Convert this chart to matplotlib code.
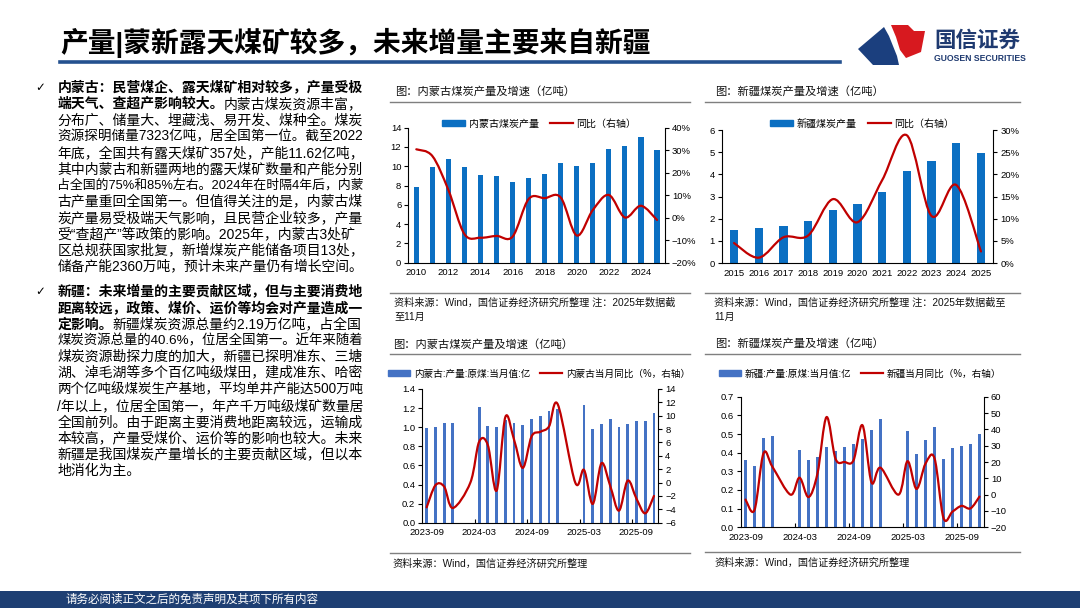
import matplotlib
matplotlib.use('Agg')
import matplotlib.pyplot as plt
from matplotlib.path import Path
from matplotlib.patches import PathPatch, Polygon, Rectangle
from matplotlib.lines import Line2D
from matplotlib.ticker import FuncFormatter, FixedLocator
import numpy as np

plt.rcParams['font.family'] = ['Liberation Sans', 'Noto Sans CJK SC', 'DejaVu Sans']
plt.rcParams['axes.unicode_minus'] = True

# ---------------- data ----------------
nm_years = list(range(2010, 2026))
nm_output = [7.81, 9.89, 10.78, 9.92, 9.06, 8.99, 8.37, 8.78, 9.23, 10.34, 10.02, 10.37, 11.75, 12.10, 13.00, 11.68]
nm_yoy = [30.4, 27.4, 12.3, -7.3, -8.9, -8.1, -8.4, 8.3, 8.7, 9.0, -7.9, 3.4, 10.1, 0.1, 5.3, -1.0]

xj_years = list(range(2015, 2026))
xj_output = [1.47, 1.58, 1.67, 1.89, 2.39, 2.66, 3.20, 4.15, 4.60, 5.41, 4.98]
xj_yoy = [4.5, 1.2, 5.8, 6.2, 14.4, 9.2, 18.7, 28.8, 10.6, 17.6, 2.6]

months = ['2023-09', '2023-10', '2023-11', '2023-12', '2024-01', '2024-02', '2024-03', '2024-04',
          '2024-05', '2024-06', '2024-07', '2024-08', '2024-09', '2024-10', '2024-11', '2024-12',
          '2025-01', '2025-02', '2025-03', '2025-04', '2025-05', '2025-06', '2025-07', '2025-08',
          '2025-09', '2025-10', '2025-11']
month_tick_labels = ['2023-09', '2024-03', '2024-09', '2025-03', '2025-09']

nm_month_output = [0.995, 1.005, 1.044, 1.044, None, None, 1.211, 1.009, 1.002, 1.08, 1.04, 1.028,
                   1.087, 1.118, 1.17, 1.19, None, None, 1.235, 0.981, 1.037, 1.086, 0.999, 1.034,
                   1.061, 1.068, 1.152]
nm_month_yoy = [-3.7, -0.4, -0.6, -3.8, None, 0.0, 6.1, 5.6, -1.2, 9.8, 6.4, 2.2, 6.9, 7.6, 8.4, 11.7,
                None, 0.0, 1.9, -3.2, 2.9, -0.5, -4.2, 0.3, -2.4, -4.6, -2.0]

xj_month_output = [0.361, 0.329, 0.477, 0.491, None, None, 0.414, 0.361, 0.379, 0.429, 0.407, 0.429,
                   0.446, 0.473, 0.521, 0.582, None, None, 0.514, 0.393, 0.466, 0.538, 0.368, 0.423,
                   0.436, 0.446, 0.498]
xj_month_yoy = [-3.0, -9.4, 25.3, 17.0, None, 0.0, 10.4, -1.5, 13.0, 47.5, 22.0, 20.0, 21.0, 42.5, 7.5,
                16.5, None, 0.0, 20.5, 3.5, 19.0, 22.3, -14.3, -10.4, -6.9, -8.4, -1.2]

# ---------------- figure ----------------
W, H = 1080, 608
fig = plt.figure(figsize=(10.8, 6.08), dpi=100)
fig.patch.set_facecolor('white')


def FX(x):
    return x / W


def FY(y):
    return 1 - y / H


def add_axes_px(l, t, r, b):
    return fig.add_axes([FX(l), FY(b), (r - l) / W, (b - t) / H])


def hline(x0, x1, y, color='#7f7f7f', lw=1.0):
    fig.add_artist(Line2D([FX(x0), FX(x1)], [FY(y), FY(y)], transform=fig.transFigure, color=color, lw=lw))


def smooth_path(xs, ys):
    pts = [(x, y) for x, y in zip(xs, ys) if y is not None]
    pts = np.array(pts, dtype=float)
    n = len(pts)
    verts = [pts[0]]
    codes = [Path.MOVETO]
    for i in range(n - 1):
        p0 = pts[i - 1] if i > 0 else pts[i]
        p1 = pts[i]
        p2 = pts[i + 1]
        p3 = pts[i + 2] if i + 2 < n else pts[i + 1]
        c1 = p1 + (p2 - p0) / 6.0
        c2 = p2 - (p3 - p1) / 6.0
        verts += [c1, c2, p2]
        codes += [Path.CURVE4] * 3
    return Path(verts, codes)


TICK_FS = 6.8
RED = '#C00000'


def style_axes(ax, ax2):
    for s in ['top', 'right']:
        ax.spines[s].set_visible(False)
    for s in ['top', 'left', 'bottom']:
        ax2.spines[s].set_visible(False)
    for a in (ax, ax2):
        for s in a.spines.values():
            s.set_color('#000000')
            s.set_linewidth(0.8)
    ax.tick_params(axis='y', labelsize=TICK_FS, length=3, width=0.8, direction='out', pad=2)
    ax2.tick_params(axis='y', labelsize=TICK_FS, length=3, width=0.8, direction='out', pad=2)
    ax.tick_params(axis='x', labelsize=TICK_FS, length=0, pad=4)


def draw_chart(box, x_labels, bars, line, bar_color, bar_w, ylim, yticks, yfmt, y2lim, y2ticks, y2fmt,
               leg_labels, leg_xy, monthly=False):
    ax = add_axes_px(*box)
    ax2 = ax.twinx()
    n = len(bars)
    xs = list(range(n))
    bx = [x for x, v in zip(xs, bars) if v is not None]
    bv = [v for v in bars if v is not None]
    ax.bar(bx, bv, width=bar_w, color=bar_color, zorder=2)
    ax.set_xlim(-0.5, n - 0.5)
    ax.set_ylim(*ylim)
    ax.set_yticks(yticks)
    ax.yaxis.set_major_formatter(FuncFormatter(yfmt))
    ax2.set_ylim(*y2lim)
    ax2.set_yticks(y2ticks)
    ax2.yaxis.set_major_formatter(FuncFormatter(y2fmt))
    ax2.add_patch(PathPatch(smooth_path(xs, line), fill=False, edgecolor=RED, lw=1.6,
                            transform=ax2.transData, zorder=3, capstyle='round', joinstyle='round'))
    style_axes(ax, ax2)
    if monthly:
        pos = [months.index(m) for m in x_labels]
        ax.set_xticks(pos)
        ax.set_xticklabels(x_labels)
        ax.xaxis.set_minor_locator(FixedLocator([5.5, 11.5, 17.5, 23.5]))
        ax.tick_params(axis='x', which='minor', length=3, width=0.8, direction='in', color='#000')
        lfs, csp = 6.9, 1.0
    else:
        ax.set_xticks(xs)
        ax.set_xticklabels(x_labels)
        lfs, csp = 7.2, 1.1
    handles = [Rectangle((0, 0), 1, 1, color=bar_color), Line2D([0], [0], color=RED, lw=1.6)]
    ax.legend(handles, leg_labels, loc='center', bbox_to_anchor=(FX(leg_xy[0]), FY(leg_xy[1])),
              bbox_transform=fig.transFigure, ncol=2, frameon=False, fontsize=lfs,
              handlelength=2.3, handleheight=0.55, handletextpad=0.4, columnspacing=csp, borderpad=0)
    return ax, ax2


pct = lambda v, p: ('−' if v < 0 else '') + f'{abs(v):.0f}%'
intf = lambda v, p: f'{v:.0f}'
dec1 = lambda v, p: f'{v:.1f}'
signed = lambda v, p: ('−' if v < 0 else '') + f'{abs(v):.0f}'

# chart 1: Inner Mongolia annual
draw_chart((408.3, 127.7, 665, 262.7),
           [str(y) if (y % 2 == 0) else '' for y in nm_years], nm_output, nm_yoy,
           '#0B6FC2', 0.32, (0, 14), list(range(0, 15, 2)), intf,
           (-20, 40), list(range(-20, 41, 10)), pct,
           ['内蒙古煤炭产量', '同比（右轴）'], (539, 123.5))

# chart 2: Xinjiang annual
draw_chart((721.7, 130, 993.3, 263),
           [str(y) for y in xj_years], xj_output, xj_yoy,
           '#0B6FC2', 0.34, (0, 6), list(range(0, 7)), intf,
           (0, 30), list(range(0, 31, 5)), pct,
           ['新疆煤炭产量', '同比（右轴）'], (862, 123.5))

# chart 3: Inner Mongolia monthly
draw_chart((422.3, 389, 658.3, 522.7),
           month_tick_labels, nm_month_output, nm_month_yoy,
           '#4472C4', 0.32, (0, 1.4), [i * 0.2 for i in range(8)], dec1,
           (-6, 14), list(range(-6, 15, 2)), signed,
           ['内蒙古:产量:原煤:当月值:亿', '内蒙古当月同比（%，右轴）'], (539, 373.5), monthly=True)

# chart 4: Xinjiang monthly
draw_chart((741, 396.7, 984, 527.3),
           month_tick_labels, xj_month_output, xj_month_yoy,
           '#4472C4', 0.32, (0, 0.7), [i * 0.1 for i in range(8)], dec1,
           (-20, 60), list(range(-20, 61, 10)), signed,
           ['新疆:产量:原煤:当月值:亿', '新疆当月同比（%，右轴）'], (860, 373.5), monthly=True)

# chart titles, rules and sources
CT_FS = 8.1
fig.text(FX(395), FY(91.7), '图：内蒙古煤炭产量及增速（亿吨）', fontsize=CT_FS, va='center', ha='left', color='#111')
fig.text(FX(715), FY(91.7), '图：新疆煤炭产量及增速（亿吨）', fontsize=CT_FS, va='center', ha='left', color='#111')
fig.text(FX(393), FY(344.5), '图：内蒙古煤炭产量及增速（亿吨）', fontsize=CT_FS, va='center', ha='left', color='#111')
fig.text(FX(715), FY(343.5), '图：新疆煤炭产量及增速（亿吨）', fontsize=CT_FS, va='center', ha='left', color='#111')
hline(390, 690, 101.7)
hline(705, 1020, 101.7)
hline(390, 690, 293.3)
hline(705, 1020, 293.3)
hline(390, 690, 354)
hline(705, 1020, 354)
hline(390, 690, 553.3)
hline(705, 1020, 551.7)
SRC_FS = 7.3
fig.text(FX(394), FY(302.7), '资料来源：Wind，国信证券经济研究所整理 注：2025年数据截', fontsize=SRC_FS, va='center', ha='left', color='#111')
fig.text(FX(394), FY(317), '至11月', fontsize=SRC_FS, va='center', ha='left', color='#111')
fig.text(FX(714), FY(302.7), '资料来源：Wind，国信证券经济研究所整理 注：2025年数据截至', fontsize=SRC_FS, va='center', ha='left', color='#111')
fig.text(FX(714), FY(317), '11月', fontsize=SRC_FS, va='center', ha='left', color='#111')
fig.text(FX(392), FY(563.3), '资料来源：Wind，国信证券经济研究所整理', fontsize=SRC_FS, va='center', ha='left', color='#111')
fig.text(FX(714), FY(562.3), '资料来源：Wind，国信证券经济研究所整理', fontsize=SRC_FS, va='center', ha='left', color='#111')

# ---------------- header ----------------
fig.text(FX(60), FY(43), '产量|蒙新露天煤矿较多，未来增量主要来自新疆', fontsize=20, fontweight='bold',
         va='center', ha='left', color='#000')
hline(60, 840, 62, color='#24518F', lw=2.6)

# logo
fig.add_artist(Polygon([(FX(x), FY(y)) for x, y in
                        [(858, 49), (884, 27), (889, 36), (893, 46), (897, 56), (899, 65), (873, 65)]],
                       closed=True, transform=fig.transFigure, facecolor='#1B3F7E', edgecolor='none'))
fig.add_artist(Polygon([(FX(x), FY(y)) for x, y in
                        [(891, 25), (908, 25), (914, 31), (925, 31), (921, 52), (906, 58), (900, 50), (896, 37)]],
                       closed=True, transform=fig.transFigure, facecolor='#D7191F', edgecolor='none'))
fig.text(FX(934), FY(41), '国信证券', fontsize=15.5, fontweight='bold', va='center', ha='left', color='#1F3A70')
fig.text(FX(934), FY(58.5), 'GUOSEN SECURITIES', fontsize=6.2, fontweight='bold', va='center', ha='left',
         color='#1F3A70')

# ---------------- footer ----------------
fig.add_artist(Rectangle((0, 0), 1, FY(591) - 0, transform=fig.transFigure, facecolor='#1E3F73', edgecolor='none'))
fig.text(FX(65), FY(600), '请务必阅读正文之后的免责声明及其项下所有内容', fontsize=8.3, va='center', ha='left', color='white')

# ---------------- left text ----------------
renderer = fig.canvas.get_renderer()
BODY_FS = 10
TEXT_X = 57.3
MAX_W = 306


def rich_line(x, y, segs):
    arts = []
    total = 0
    for s, bold in segs:
        t = fig.text(FX(x), FY(y), s, fontsize=BODY_FS, fontweight='bold' if bold else 'normal',
                     va='center', ha='left', color='#000')
        total += t.get_window_extent(renderer=renderer).width
        arts.append(t)
    fs = BODY_FS
    if total > MAX_W:
        fs = BODY_FS * MAX_W / total
    cx = x
    for t in arts:
        t.set_fontsize(fs)
        t.set_x(FX(cx))
        cx += t.get_window_extent(renderer=renderer).width


para1 = [
    [('内蒙古：民营煤企、露天煤矿相对较多，产量受极', True)],
    [('端天气、查超产影响较大。', True), ('内蒙古煤炭资源丰富，', False)],
    [('分布广、储量大、埋藏浅、易开发、煤种全。煤炭', False)],
    [('资源探明储量7323亿吨，居全国第一位。截至2022', False)],
    [('年底，全国共有露天煤矿357处，产能11.62亿吨，', False)],
    [('其中内蒙古和新疆两地的露天煤矿数量和产能分别', False)],
    [('占全国的75%和85%左右。2024年在时隔4年后，内蒙', False)],
    [('古产量重回全国第一。但值得关注的是，内蒙古煤', False)],
    [('炭产量易受极端天气影响，且民营企业较多，产量', False)],
    [('受“查超产”等政策的影响。2025年，内蒙古3处矿', False)],
    [('区总规获国家批复，新增煤炭产能储备项目13处，', False)],
    [('储备产能2360万吨，预计未来产量仍有增长空间。', False)],
]
para2 = [
    [('新疆：未来增量的主要贡献区域，但与主要消费地', True)],
    [('距离较远，政策、煤价、运价等均会对产量造成一', True)],
    [('定影响。', True), ('新疆煤炭资源总量约2.19万亿吨，占全国', False)],
    [('煤炭资源总量的40.6%，位居全国第一。近年来随着', False)],
    [('煤炭资源勘探力度的加大，新疆已探明准东、三塘', False)],
    [('湖、淖毛湖等多个百亿吨级煤田，建成准东、哈密', False)],
    [('两个亿吨级煤炭生产基地，平均单井产能达500万吨', False)],
    [('/年以上，位居全国第一，年产千万吨级煤矿数量居', False)],
    [('全国前列。由于距离主要消费地距离较远，运输成', False)],
    [('本较高，产量受煤价、运价等的影响也较大。未来', False)],
    [('新疆是我国煤炭产量增长的主要贡献区域，但以本', False)],
    [('地消化为主。', False)],
]
LS = 16.27
P1Y = 87.7
for i, segs in enumerate(para1):
    rich_line(TEXT_X, P1Y + i * LS, segs)
fig.text(FX(35), FY(P1Y), '✓', fontsize=8.5, va='center', ha='left', color='#000', family=['DejaVu Sans'])
P2Y = 292
for i, segs in enumerate(para2):
    rich_line(TEXT_X, P2Y + i * LS, segs)
fig.text(FX(35), FY(P2Y), '✓', fontsize=8.5, va='center', ha='left', color='#000', family=['DejaVu Sans'])

fig.savefig('out.png', dpi=100, facecolor='white')
